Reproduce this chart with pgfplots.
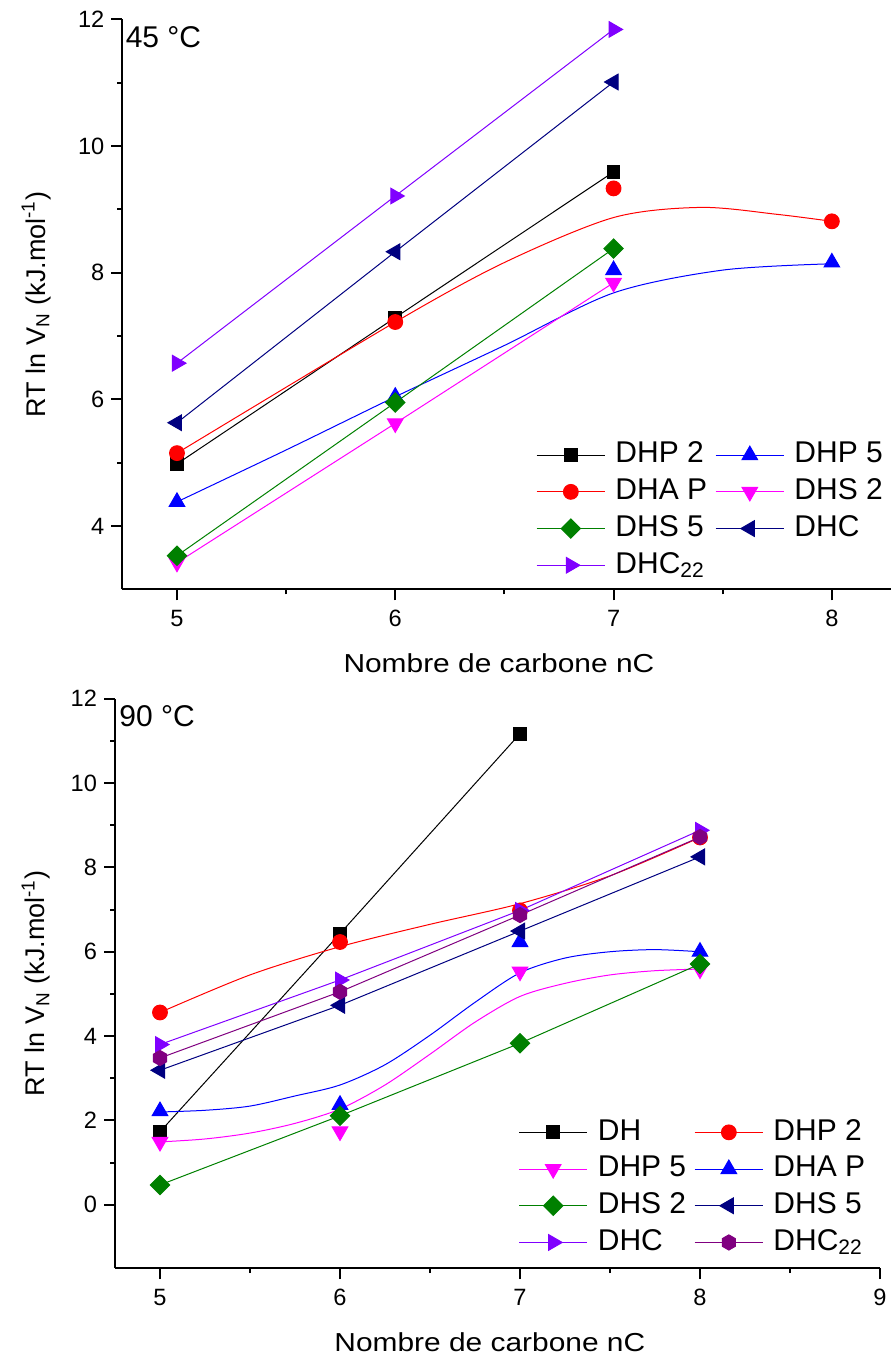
\documentclass[border=0pt]{standalone}
\usepackage{fontspec}
\setmainfont{Liberation Sans}
\newfontfamily\xlabfont[FakeStretch=1.15]{Liberation Sans}
\usepackage{pgfplots}
\pgfplotsset{compat=1.18}
\definecolor{cnavy}{RGB}{0,0,128}
\definecolor{cviolet}{RGB}{128,0,255}
\definecolor{cpurple}{RGB}{128,0,128}
\definecolor{cgreen}{RGB}{0,128,0}
\definecolor{cmag}{RGB}{255,0,255}
\definecolor{cblue}{RGB}{0,0,255}
\definecolor{cred}{RGB}{255,0,0}

\pgfdeclareplotmark{hexagon*}{%
  \pgfpathmoveto{\pgfpointpolar{90}{\pgfplotmarksize}}%
  \pgfpathlineto{\pgfpointpolar{150}{\pgfplotmarksize}}%
  \pgfpathlineto{\pgfpointpolar{210}{\pgfplotmarksize}}%
  \pgfpathlineto{\pgfpointpolar{270}{\pgfplotmarksize}}%
  \pgfpathlineto{\pgfpointpolar{330}{\pgfplotmarksize}}%
  \pgfpathlineto{\pgfpointpolar{30}{\pgfplotmarksize}}%
  \pgfpathclose
  \pgfusepathqfillstroke}

\pgfplotsset{
  sq/.style={mark=square*, mark size=3.2pt},
  ci/.style={mark=*, mark size=3.7pt},
  tu/.style={mark=triangle*, mark size=4.5pt},
  td/.style={mark=triangle*, mark size=4.5pt, mark options={rotate=180}},
  tl/.style={mark=triangle*, mark size=4.5pt, mark options={rotate=90}},
  tr/.style={mark=triangle*, mark size=4.5pt, mark options={rotate=-90}},
  di/.style={mark=square*, mark size=3.4pt, mark options={rotate=45}},
  hx/.style={mark=hexagon*, mark size=3.8pt},
  mybase/.style={
    scale only axis,
    axis x line*=bottom, axis y line*=left,
    tick align=outside,
    major tick length=5.5pt, minor tick length=2.5pt,
    axis line style={line width=1pt},
    every tick/.style={black, line width=1pt},
    minor x tick num=1, minor y tick num=1,
    /pgf/number format/assume math mode=true,
    tick label style={font=\fontsize{11.8}{13}\selectfont},
    xticklabel style={yshift=-1.5pt},
    xlabel style={font=\xlabfont\fontsize{13}{15}\selectfont, at={(axis description cs:0.49,0)}, anchor=base, yshift=-41.5pt},
    every axis plot/.append style={line width=0.5pt},
    legend columns=2,
    legend cell align=left,
    legend style={draw=none, fill=none, inner sep=0pt,
      font=\fontsize{15}{17}\selectfont,
      nodes={text height=10.8pt, text depth=3pt, inner sep=0.5pt},
      row sep=3.55pt,
      /tikz/every odd column/.append style={column sep=4.5pt},
      /tikz/every even column/.append style={column sep=3.5pt}},
    legend image code/.code={\draw[mark repeat=2,mark phase=2] plot coordinates {(0cm,0cm) (0.6cm,0cm) (1.2cm,0cm)};},
  }
}

\begin{document}
\begin{tikzpicture}
\useasboundingbox (0pt,0pt) rectangle (445.5pt,-679pt);

% ---------------- 45 C ----------------
\begin{axis}[mybase,
  at={(61.2pt,-294.65pt)}, anchor=south west,
  width=384.2pt, height=285pt,
  xmin=4.75, xmax=8.27, ymin=3, ymax=12,
  xtick={5,6,7,8}, ytick={4,6,8,10,12},
  xlabel={Nombre de carbone nC},
  ylabel={RT ln V\textsubscript{N} (kJ.mol\textsuperscript{-1})},
  ylabel style={font=\fontsize{13.5}{15}\selectfont, at={(axis description cs:-0.1007,0.5)}, anchor=base, rotate=0},
  legend style={at={(axis description cs:0.538,0.262)}, anchor=north west},
]
\addlegendimage{black, sq}\addlegendentry{DHP 2}
\addlegendimage{cblue, tu}\addlegendentry{DHP 5}
\addlegendimage{cred, ci}\addlegendentry{DHA P}
\addlegendimage{cmag, td}\addlegendentry{DHS 2}
\addlegendimage{cgreen, di}\addlegendentry{DHS 5}
\addlegendimage{cnavy, tl}\addlegendentry{DHC}
\addlegendimage{cviolet, tr}\addlegendentry{DHC\textsubscript{22}}

% DHP 2
\addplot[forget plot, black, sq] coordinates {(5,4.98) (6,7.29) (7,9.59)};
% DHP 5
\addplot[forget plot, cblue, smooth, no marks] coordinates {(5,4.38) (5.5,5.2) (6,6.04) (6.5,6.85) (7,7.68) (7.5,8.04) (8,8.14)};
\addplot[forget plot, cblue, tu, only marks] coordinates {(5,4.38) (6,6.04) (7,8.04) (8,8.16)};
% DHA P
\addplot[forget plot, cred, smooth, no marks] coordinates {(5,5.15) (6,7.22) (6.5,8.16) (7,8.87) (7.4,9.03) (7.75,8.92) (8,8.81)};
\addplot[forget plot, cred, ci, only marks] coordinates {(5,5.15) (6,7.22) (7,9.33) (8,8.81)};
% DHS 2
\addplot[forget plot, cmag, td] coordinates {(5,3.42) (6,5.62) (7,7.84)};
% DHS 5
\addplot[forget plot, cgreen, di] coordinates {(5,3.53) (6,5.95) (7,8.38)};
% DHC
\addplot[forget plot, cnavy, tl] coordinates {(5,5.63) (6,8.33) (7,11.01)};
% DHC22
\addplot[forget plot, cviolet, tr] coordinates {(5,6.57) (6,9.21) (7,11.84)};

\node[anchor=base west, font=\fontsize{15}{17}\selectfont, inner sep=0pt] at ([xshift=1.5pt,yshift=-13.9pt]rel axis cs:0,1) {45 °C};
\end{axis}

% ---------------- 90 C ----------------
\begin{axis}[mybase,
  at={(57.5pt,-634pt)}, anchor=south west,
  width=382.5pt, height=284.65pt,
  xmin=4.75, xmax=9, ymin=-1.5, ymax=12,
  xtick={5,6,7,8,9}, ytick={0,2,4,6,8,10,12},
  xlabel={Nombre de carbone nC},
  ylabel={RT ln V\textsubscript{N} (kJ.mol\textsuperscript{-1})},
  ylabel style={font=\fontsize{13.5}{15}\selectfont, at={(axis description cs:-0.0915,0.5)}, anchor=base, rotate=0},
  legend style={at={(axis description cs:0.527,0.265)}, anchor=north west},
]
\addlegendimage{black, sq}\addlegendentry{DH}
\addlegendimage{cred, ci}\addlegendentry{DHP 2}
\addlegendimage{cmag, td}\addlegendentry{DHP 5}
\addlegendimage{cblue, tu}\addlegendentry{DHA P}
\addlegendimage{cgreen, di}\addlegendentry{DHS 2}
\addlegendimage{cnavy, tl}\addlegendentry{DHS 5}
\addlegendimage{cviolet, tr}\addlegendentry{DHC}
\addlegendimage{cpurple, hx}\addlegendentry{DHC\textsubscript{22}}

% DH
\addplot[forget plot, black, sq] coordinates {(5,1.73) (6,6.43) (7,11.17)};
% DHP 2
\addplot[forget plot, cred, smooth, no marks] coordinates {(5,4.56) (5.5,5.45) (6,6.12) (6.5,6.65) (7,7.14) (7.5,7.8) (8,8.71)};
\addplot[forget plot, cred, ci, only marks] coordinates {(5,4.56) (6,6.23) (7,6.98) (8,8.71)};
% DHP 5
\addplot[forget plot, cmag, smooth, no marks] coordinates {(5,1.49) (5.25,1.56) (5.5,1.7) (5.75,1.93) (6,2.27) (6.25,2.84) (6.5,3.57) (6.75,4.33) (7,4.94) (7.25,5.25) (7.5,5.45) (7.75,5.55) (8,5.59)};
\addplot[forget plot, cmag, td, only marks] coordinates {(5,1.49) (6,1.74) (7,5.53) (8,5.58)};
% DHA P
\addplot[forget plot, cblue, smooth, no marks] coordinates {(5,2.2) (5.25,2.24) (5.5,2.34) (5.75,2.58) (6,2.84) (6.25,3.32) (6.5,4.02) (6.75,4.8) (7,5.5) (7.25,5.85) (7.5,6.0) (7.75,6.05) (8,6.0)};
\addplot[forget plot, cblue, tu, only marks] coordinates {(5,2.22) (6,2.37) (7,6.23) (8,6.0)};
% DHS 2
\addplot[forget plot, cgreen, di] coordinates {(5,0.47) (6,2.11) (7,3.83) (8,5.71)};
% DHS 5
\addplot[forget plot, cnavy, tl] coordinates {(5,3.19) (6,4.73) (7,6.49) (8,8.25)};
% DHC
\addplot[forget plot, cviolet, tr] coordinates {(5,3.80) (6,5.33) (7,6.98) (8,8.88)};
% DHC22
\addplot[forget plot, cpurple, hx] coordinates {(5,3.48) (6,5.05) (7,6.87) (8,8.72)};

\node[anchor=base west, font=\fontsize{15}{17}\selectfont, inner sep=0pt] at ([xshift=2pt,yshift=-14pt]rel axis cs:0,1) {90 °C};
\end{axis}
\end{tikzpicture}
\end{document}
